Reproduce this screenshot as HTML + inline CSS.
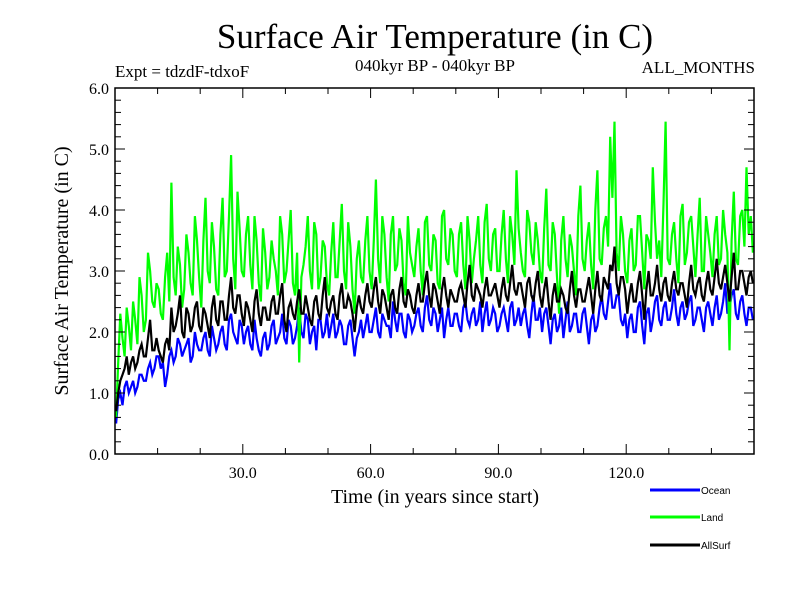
<!DOCTYPE html>
<html><head><meta charset="utf-8"><style>
body{margin:0;background:#fff;width:800px;height:600px;overflow:hidden}
svg text{font-family:"Liberation Serif",serif;fill:#000}
</style></head><body>
<svg id="chart" width="800" height="600">
<text x="435" y="48" font-size="35" text-anchor="middle">Surface Air Temperature (in C)</text>
<text x="115" y="77" font-size="17">Expt = tdzdF-tdxoF</text>
<text x="435" y="71" font-size="17" text-anchor="middle">040kyr BP - 040kyr BP</text>
<text x="755" y="73" font-size="17" text-anchor="end">ALL_MONTHS</text>
<text transform="translate(68,271) rotate(-90)" font-size="20" text-anchor="middle">Surface Air Temperature (in C)</text>
<text x="435" y="503" font-size="20" text-anchor="middle">Time (in years since start)</text>
<g id="series"></g>
<g id="axes"></g>
<g>
<line x1="650" y1="490" x2="700" y2="490" stroke="#0000ff" stroke-width="3"/>
<text x="701" y="494" font-size="10" style="font-family:'Liberation Sans',sans-serif">Ocean</text>
<line x1="650" y1="517" x2="700" y2="517" stroke="#00ff00" stroke-width="3"/>
<text x="701" y="521" font-size="10" style="font-family:'Liberation Sans',sans-serif">Land</text>
<line x1="650" y1="545" x2="700" y2="545" stroke="#000" stroke-width="3"/>
<text x="701" y="549" font-size="10" style="font-family:'Liberation Sans',sans-serif">AllSurf</text>
</g>
</svg>
<script>
const years = Array.from({length:150},(_, i)=>i);
const ocean = [0.5,1.0,1.1,1.0,1.2,1.1,1.3,1.2,1.5,1.4,
1.6,1.5,1.3,1.7,1.6,1.8,1.7,1.9,1.6,1.8,
1.7,2.0,1.6,1.9,1.8,2.1,1.7,2.3,1.9,2.2,
1.8,2.1,1.7,1.9,1.6,2.0,1.8,2.2,1.9,2.3,
1.8,2.1,1.9,2.4,1.9,2.2,2.0,1.7,2.2,2.0,
1.9,2.3,2.0,2.1,1.8,2.2,1.6,2.0,1.9,2.3,
2.0,2.4,1.9,2.2,2.1,2.5,2.0,2.3,1.9,2.2,
2.1,2.4,2.0,2.6,2.1,2.3,2.2,1.9,2.4,2.1,
2.3,2.0,2.5,2.1,2.4,2.2,2.0,2.5,2.2,2.3,
2.1,2.4,2.0,2.5,2.2,2.1,2.4,1.9,2.6,2.2,
2.0,2.4,1.8,2.3,2.1,1.9,2.5,2.1,2.3,2.0,
2.4,1.8,2.3,2.1,2.6,2.2,2.8,2.4,2.6,2.1,
1.9,2.3,2.0,2.5,1.8,2.4,2.2,2.6,2.1,2.5,
2.2,2.7,2.1,2.5,2.3,2.6,2.2,2.4,2.0,2.5,
2.1,2.6,2.3,2.8,2.4,2.7,2.2,2.6,2.1,2.4];
const oceanMid = [0.9,0.8,1.2,1.1,1.0,1.3,1.2,1.4,1.3,1.6,
1.4,1.1,1.6,1.5,1.9,1.6,1.8,1.5,2.0,1.7,
1.9,1.7,2.1,1.7,2.0,1.8,2.2,2.0,1.8,2.1,
2.0,1.8,2.2,1.7,1.9,1.7,2.1,1.8,2.0,1.9,
2.2,1.8,2.1,2.0,2.3,1.8,2.1,2.2,1.9,2.3,
2.1,1.9,2.2,1.8,2.1,1.9,1.9,2.2,2.1,2.0,
2.2,2.0,2.3,2.1,1.9,2.2,2.3,2.0,2.3,2.0,
2.3,2.1,2.4,2.2,2.4,2.0,2.4,2.2,2.1,2.3,
2.1,2.4,2.2,2.3,2.1,2.5,2.3,2.1,2.4,2.0,
2.3,2.2,2.4,2.1,2.4,2.3,2.1,2.3,2.2,2.4,
2.3,2.1,2.2,2.0,2.4,2.2,2.0,2.3,2.0,2.3,
2.1,2.2,2.0,2.4,2.3,2.5,2.4,2.6,2.2,2.3,
2.2,2.0,2.4,2.1,2.3,2.0,2.5,2.2,2.4,2.2,
2.4,2.3,2.4,2.2,2.5,2.1,2.4,2.2,2.4,2.3,
2.4,2.2,2.5,2.3,2.6,2.3,2.5,2.3,2.4,2.2];
const land = [0.6,2.3,1.6,2.1,2.5,1.8,2.6,2.2,3.0,2.4,
2.7,2.2,3.3,4.45,2.6,3.1,2.7,3.3,2.6,3.5,
2.4,4.2,2.8,3.4,2.6,4.2,3.0,4.9,2.7,3.7,
2.9,3.9,2.7,3.5,2.5,3.3,2.9,3.2,2.6,3.6,
3.0,4.0,2.6,1.5,3.1,3.9,2.7,3.6,2.9,3.4,
2.6,3.8,2.9,4.1,2.7,3.4,2.3,3.5,2.8,3.9,
2.7,4.5,2.8,3.6,2.5,3.9,3.1,3.5,2.6,3.3,
2.9,3.7,2.6,3.9,3.0,3.5,2.7,4.0,3.1,3.6,
2.9,3.8,2.7,3.5,3.2,3.9,2.8,4.1,3.0,3.7,
3.0,4.0,2.8,3.6,4.65,3.3,2.9,3.8,3.1,3.5,
2.8,4.35,3.0,3.6,2.3,3.9,2.9,3.4,2.6,4.4,
3.0,3.8,2.7,4.65,3.1,3.9,5.2,5.45,3.0,3.6,
2.8,3.7,3.1,3.9,2.7,3.5,4.7,3.2,2.9,5.45,
3.1,3.8,2.8,4.1,3.3,3.9,2.9,4.2,3.0,3.6,
2.9,3.9,3.2,3.6,1.7,4.3,3.1,4.0,4.7,3.9];
const landMid = [1.5,1.9,2.4,1.7,2.2,2.9,2.0,3.3,2.5,2.8,
2.3,2.9,2.5,2.9,3.4,2.4,3.6,2.8,3.9,2.9,
3.5,3.0,3.8,2.7,3.6,2.9,3.9,3.2,4.3,3.0,
3.6,3.1,3.9,2.8,3.7,2.7,3.5,3.0,3.9,2.8,
3.5,2.8,3.3,2.9,3.4,3.0,3.8,2.7,3.5,2.8,
3.3,2.9,3.5,3.0,3.8,2.7,3.2,2.9,3.5,3.0,
3.5,3.2,3.9,2.9,3.6,3.0,3.7,2.8,3.9,3.1,
3.4,3.0,3.8,3.1,3.6,2.8,3.9,3.2,3.7,3.0,
3.6,3.1,3.9,2.8,3.5,3.1,3.8,3.2,3.6,3.0,
3.6,3.2,3.9,3.1,3.7,3.0,4.0,3.3,3.8,3.0,
3.7,3.1,3.8,2.9,3.5,3.2,3.6,3.0,3.9,3.2,
3.5,3.1,4.0,3.2,3.7,3.4,4.2,3.3,3.9,3.0,
3.5,3.0,3.9,3.3,3.6,3.2,3.8,3.5,4.1,3.2,
3.6,3.2,3.9,3.1,3.8,3.4,3.6,3.0,3.9,3.3,
3.6,3.1,4.0,3.3,3.5,3.2,3.9,3.4,3.6,3.3];
const allsurf = [0.7,1.2,1.4,1.3,1.6,1.5,1.8,1.6,2.2,1.7,
1.7,1.5,1.9,2.4,2.1,2.6,1.9,2.3,2.1,2.5,
2.0,2.3,1.9,2.6,2.1,2.5,2.2,2.9,2.3,2.6,
2.1,2.4,2.0,2.7,2.1,2.4,2.2,2.6,2.3,2.8,
2.0,2.5,2.2,2.7,2.3,2.4,2.1,2.6,2.2,2.9,
2.3,2.6,2.2,2.8,2.4,2.5,2.0,2.6,2.3,2.8,
2.4,2.9,2.3,2.6,2.2,2.7,2.3,2.9,2.4,2.6,
2.3,2.8,2.5,3.0,2.4,2.7,2.3,2.9,2.4,2.6,
2.5,2.8,2.4,3.1,2.5,2.7,2.4,2.9,2.6,2.8,
2.4,2.9,2.5,3.1,2.6,2.8,2.4,2.9,2.5,3.0,
2.4,2.9,2.2,2.8,2.5,2.6,2.3,3.0,2.4,2.7,
2.5,2.9,2.3,3.0,2.5,2.8,3.1,3.4,2.6,2.9,
2.3,2.8,2.5,3.0,2.2,3.0,2.6,3.1,2.5,2.9,
2.5,3.0,2.6,2.8,2.4,3.1,2.6,2.9,2.5,3.0,
2.6,3.2,2.7,3.1,2.5,3.3,2.7,3.0,2.6,3.0];
const allsurfMid = [1.0,1.3,1.6,1.5,1.4,1.7,1.6,1.9,1.7,1.9,
1.6,1.8,1.7,2.0,2.3,2.0,2.4,2.0,2.4,2.1,
2.4,2.1,2.4,2.2,2.5,2.2,2.6,2.4,2.6,2.3,
2.5,2.2,2.5,2.3,2.4,2.2,2.5,2.3,2.6,2.2,
2.4,2.3,2.5,2.3,2.6,2.2,2.5,2.3,2.6,2.4,
2.5,2.3,2.6,2.4,2.6,2.3,2.4,2.4,2.6,2.5,
2.7,2.5,2.7,2.4,2.6,2.4,2.7,2.5,2.7,2.4,
2.6,2.5,2.8,2.6,2.8,2.5,2.7,2.6,2.7,2.5,
2.7,2.6,2.8,2.6,2.8,2.6,2.7,2.6,2.7,2.6,
2.7,2.6,2.8,2.7,2.8,2.6,2.8,2.6,2.8,2.6,
2.7,2.5,2.6,2.5,2.7,2.4,2.7,2.6,2.7,2.5,
2.7,2.6,2.7,2.6,2.9,2.7,3.0,2.8,2.9,2.7,
2.6,2.5,2.8,2.6,2.7,2.6,2.8,2.7,2.8,2.6,
2.8,2.7,2.8,2.6,2.8,2.7,2.8,2.6,2.8,2.7,
2.9,2.8,2.9,2.8,2.9,2.7,3.0,2.8,2.9,2.8];
const xTicks = [30,60,90,120];
const xTickLabels = ["30.0","60.0","90.0","120.0"];
const yTicks = [0,1,2,3,4,5,6];
const yTickLabels = ["0.0","1.0","2.0","3.0","4.0","5.0","6.0"];

const L=115,R=754,T=88,B=454,XMIN=0,XMAX=150,YMIN=0,YMAX=6;
const sx=v=>L+(v-XMIN)/(XMAX-XMIN)*(R-L);
const sy=v=>B-(v-YMIN)/(YMAX-YMIN)*(B-T);
const NS="http://www.w3.org/2000/svg";
const sg=document.getElementById('series'), ag=document.getElementById('axes');
function mk(tag,attrs,parent){const e=document.createElementNS(NS,tag);for(const k in attrs)e.setAttribute(k,attrs[k]);parent.appendChild(e);return e;}
function drawSeries(vals,mids,color,name){
  const pts=[];
  vals.forEach((v,i)=>{
    pts.push(sx(years[i]+0.25).toFixed(1)+','+sy(v).toFixed(1));
    pts.push(sx(years[i]+0.75).toFixed(1)+','+sy(mids[i]).toFixed(1));
  });
  const p=mk('polyline',{points:pts.join(' '),fill:'none',stroke:color,'stroke-width':2.2,'stroke-linejoin':'miter'},sg);
  
  
}
drawSeries(ocean,oceanMid,'#0000ff','ocean-line');
drawSeries(land,landMid,'#00ff00','land-line');
drawSeries(allsurf,allsurfMid,'#000000','allsurf-line');
const fr=mk('rect',{x:L,y:T,width:R-L,height:B-T,fill:'none',stroke:'#000','stroke-width':1.5},ag);


for(let v=10;v<150;v+=10){
  const len=xTicks.includes(v)?10:6;
  mk('line',{x1:sx(v),x2:sx(v),y1:B,y2:B-len,stroke:'#000'},ag);
  mk('line',{x1:sx(v),x2:sx(v),y1:T,y2:T+len,stroke:'#000'},ag);
}
for(let k=1;k<30;k++){
  const v=k*0.2, major=k%5===0, len=major?10:6;
  mk('line',{x1:L,x2:L+len,y1:sy(v),y2:sy(v),stroke:'#000'},ag);
  mk('line',{x1:R,x2:R-len,y1:sy(v),y2:sy(v),stroke:'#000'},ag);
}
xTicks.forEach((v,i)=>{
  const t=mk('text',{x:sx(v),y:B+24,'font-size':16,'text-anchor':'middle'},ag);
  t.textContent=xTickLabels[i];
  
  
});
yTicks.forEach((v,i)=>{
  const t=mk('text',{x:L-6,y:sy(v)+6,'font-size':16,'text-anchor':'end'},ag);
  t.textContent=yTickLabels[i];
  
  
});
</script>
</body></html>
